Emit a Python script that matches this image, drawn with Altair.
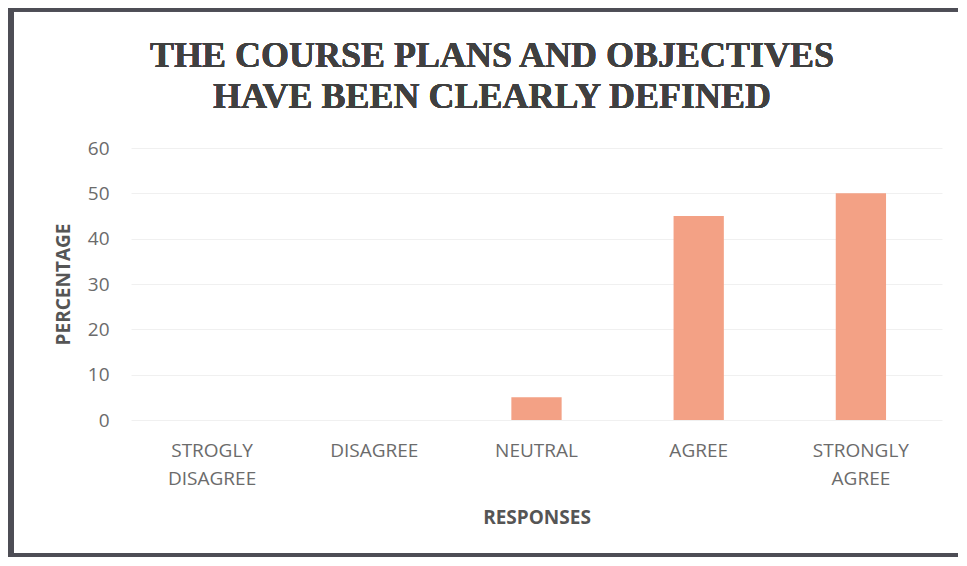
import altair as alt
import pandas as pd

categories = ["STROGLY DISAGREE", "DISAGREE", "NEUTRAL", "AGREE", "STRONGLY AGREE"]
percentages = [0, 0, 5, 45, 50]
y_ticks = [0, 10, 20, 30, 40, 50, 60]
title_lines = "THE COURSE PLANS AND OBJECTIVES\nHAVE BEEN CLEARLY DEFINED"

df = pd.DataFrame({"response": categories, "pct": percentages})

W, H = 811, 272
PAD_L, PAD_T = 123, 140

bars = alt.Chart(df).mark_bar(color="#F3A185").encode(
    x=alt.X(
        "response:N",
        sort=categories,
        scale=alt.Scale(paddingInner=0.69, paddingOuter=0.345),
        axis=alt.Axis(
            title="RESPONSES",
            labelAngle=0,
            labelExpr="split(datum.label, ' ')",
            labelFont="Open Sans",
            labelFontSize=19,
            labelColor="#6b6b6b",
            labelLineHeight=28,
            labelPadding=21,
            ticks=False,
            domain=False,
            grid=False,
            titleFont="Open Sans",
            titleFontSize=19,
            titleFontWeight="bold",
            titleColor="#555555",
            titlePadding=20,
        ),
    ),
    y=alt.Y(
        "pct:Q",
        scale=alt.Scale(domain=[0, 60]),
        axis=alt.Axis(
            title="PERCENTAGE",
            values=y_ticks,
            labelFont="Open Sans",
            labelFontSize=19,
            labelColor="#6b6b6b",
            labelPadding=22,
            ticks=False,
            domain=False,
            grid=True,
            gridColor="#f0f0f0",
            titleFont="Open Sans",
            titleFontSize=19,
            titleFontWeight="bold",
            titleColor="#555555",
            titlePadding=14,
        ),
    ),
)

title = alt.Chart(df).mark_text(
    text=title_lines,
    lineBreak="\n",
    font="Liberation Serif",
    fontSize=36,
    fontWeight="bold",
    color="#404040",
    lineHeight=41,
    align="center",
    baseline="top",
).encode(x=alt.value(361), y=alt.value(-109))

border_col = "#4d4d55"
top_rule = alt.Chart(df).mark_rule(color=border_col, strokeWidth=5).encode(
    x=alt.value(-PAD_L), x2=alt.value(W + 30), y=alt.value(-139)
)
left_rule = alt.Chart(df).mark_rule(color=border_col, strokeWidth=6).encode(
    x=alt.value(-PAD_L + 3), y=alt.value(-141), y2=alt.value(420)
)
bottom_rule = alt.Chart(df).mark_rule(color=border_col, strokeWidth=4).encode(
    x=alt.value(-PAD_L), x2=alt.value(W + 30), y=alt.value(407)
)

chart = alt.layer(bars, title, top_rule, left_rule, bottom_rule).properties(
    width=W,
    height=H,
    background="white",
    padding={"left": PAD_L, "top": PAD_T, "right": 16, "bottom": 137},
    autosize=alt.AutoSizeParams(type="none"),
).configure_view(stroke=None)

chart.save("out.html", embed_options={"renderer": "svg", "actions": False})
